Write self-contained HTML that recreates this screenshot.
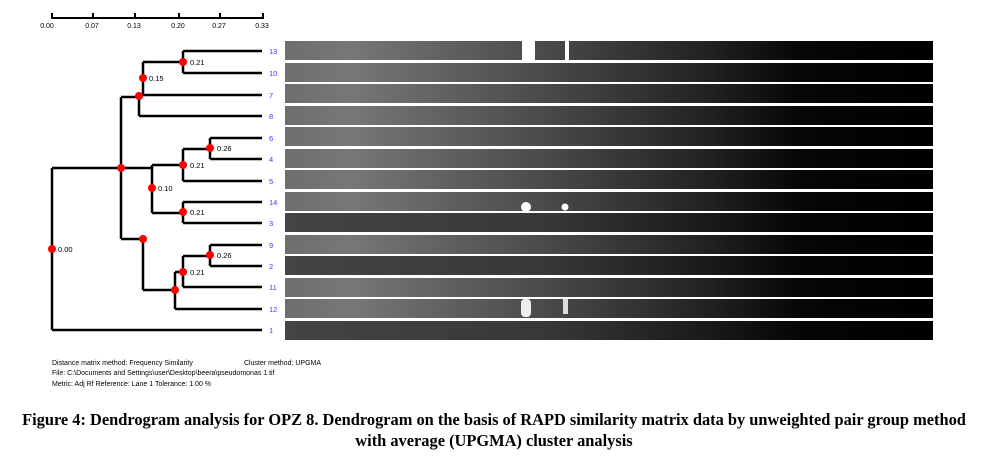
<!DOCTYPE html>
<html><head><meta charset="utf-8"><style>
body{margin:0;background:#fff;width:988px;height:459px;overflow:hidden;position:relative;font-family:"Liberation Sans",sans-serif}
.cap{position:absolute;left:0;width:988px;text-align:center;font-family:"Liberation Serif",serif;font-weight:bold;font-size:16.4px;color:#000;white-space:nowrap}
</style></head><body>
<svg width="988" height="400" style="position:absolute;left:0;top:0" font-family="Liberation Sans, sans-serif">
<defs>
<linearGradient id="g" x1="0" x2="1"><stop offset="0" stop-color="#6e6e6e"/><stop offset="0.1" stop-color="#777"/><stop offset="0.4" stop-color="#4a4a4a"/><stop offset="0.65" stop-color="#222"/><stop offset="0.8" stop-color="#060606"/><stop offset="1" stop-color="#000"/></linearGradient>
<linearGradient id="gd" x1="0" x2="1"><stop offset="0" stop-color="#444"/><stop offset="0.4" stop-color="#383838"/><stop offset="0.65" stop-color="#1a1a1a"/><stop offset="0.8" stop-color="#050505"/><stop offset="1" stop-color="#000"/></linearGradient>
</defs>
<g stroke="#000" stroke-width="2" fill="none">
<line x1="52" y1="18" x2="264" y2="18"/>
<line x1="52" y1="13" x2="52" y2="19"/><line x1="93" y1="13" x2="93" y2="19"/><line x1="135" y1="13" x2="135" y2="19"/><line x1="179" y1="13" x2="179" y2="19"/><line x1="220" y1="13" x2="220" y2="19"/><line x1="263" y1="13" x2="263" y2="19"/>
</g>
<g font-size="7" fill="#000" text-anchor="middle">
<text x="47" y="28">0.00</text><text x="92" y="28">0.07</text><text x="134" y="28">0.13</text><text x="178" y="28">0.20</text><text x="219" y="28">0.27</text><text x="262" y="28">0.33</text>
</g>
<g>
<rect x="285" y="41" width="648" height="19" fill="url(#g)"/>
<rect x="285" y="63" width="648" height="19" fill="url(#g)"/>
<rect x="285" y="84" width="648" height="19" fill="url(#g)"/>
<rect x="285" y="106" width="648" height="19" fill="url(#g)"/>
<rect x="285" y="127" width="648" height="19" fill="url(#g)"/>
<rect x="285" y="149" width="648" height="19" fill="url(#g)"/>
<rect x="285" y="170" width="648" height="19" fill="url(#g)"/>
<rect x="285" y="192" width="648" height="19" fill="url(#g)"/>
<rect x="285" y="213" width="648" height="19" fill="url(#gd)"/>
<rect x="285" y="235" width="648" height="19" fill="url(#g)"/>
<rect x="285" y="256" width="648" height="19" fill="url(#gd)"/>
<rect x="285" y="278" width="648" height="19" fill="url(#g)"/>
<rect x="285" y="299" width="648" height="19" fill="url(#g)"/>
<rect x="285" y="321" width="648" height="19" fill="url(#gd)"/>
<rect x="522" y="41" width="13" height="19" fill="#fff"/><rect x="565" y="41" width="4" height="19" fill="#fff"/>
<circle cx="526" cy="207" r="5" fill="#fff"/><circle cx="565" cy="207" r="3.5" fill="#fff"/>
<rect x="521" y="299" width="10" height="18" rx="4" fill="#eee"/><rect x="563" y="299" width="5" height="15" fill="#ddd"/>
</g>
<g stroke="#000" stroke-width="2.5" fill="none">
<path d="M52 168V330M52 168H121M52 330H262"/>
<path d="M121 97V239M121 97H139M121 239H143"/>
<path d="M139 95V116M139 116H262M139 95H262"/>
<path d="M143 62V95M143 62H183M183 51V73M183 51H262M183 73H262"/>
<path d="M121 168H152M152 165V213M152 165H183M183 149V181M183 181H262M183 149H210M210 138V159M210 138H262M210 159H262"/>
<path d="M152 213H183M183 202V223M183 202H262M183 223H262"/>
<path d="M143 239V290M143 290H175M175 272V309M175 309H262M175 272H183M183 256V287M183 287H262M183 256H210M210 245V266M210 245H262M210 266H262"/>
</g>
<g fill="#f00">
<circle cx="52" cy="249" r="4"/><circle cx="121" cy="168" r="4"/><circle cx="139" cy="96" r="4"/><circle cx="143" cy="78" r="4"/><circle cx="183" cy="62" r="4"/>
<circle cx="183" cy="165" r="4"/><circle cx="210" cy="148" r="4"/><circle cx="152" cy="188" r="4"/><circle cx="183" cy="212" r="4"/>
<circle cx="143" cy="239" r="4"/><circle cx="175" cy="290" r="4"/><circle cx="183" cy="272" r="4"/><circle cx="210" cy="255" r="4"/>
</g>
<g font-size="7.5" fill="#000">
<text x="58" y="252">0.00</text><text x="149" y="81">0.15</text><text x="190" y="65">0.21</text>
<text x="217" y="151">0.26</text><text x="190" y="168">0.21</text><text x="158" y="191">0.10</text><text x="190" y="215">0.21</text>
<text x="190" y="275">0.21</text><text x="217" y="258">0.26</text>
</g>
<g font-size="7.5" fill="#3a3aff">
<text x="269" y="54">13</text><text x="269" y="76">10</text><text x="269" y="98">7</text><text x="269" y="119">8</text><text x="269" y="141">6</text><text x="269" y="162">4</text><text x="269" y="184">5</text><text x="269" y="205">14</text><text x="269" y="226">3</text><text x="269" y="248">9</text><text x="269" y="269">2</text><text x="269" y="290">11</text><text x="269" y="312">12</text><text x="269" y="333">1</text>
</g>
<g font-size="7" fill="#000">
<text x="52" y="365">Distance matrix method: Frequency Similarity</text><text x="244" y="365">Cluster method: UPGMA</text>
<text x="52" y="375">File: C:\Documents and Settings\user\Desktop\beera\pseudomonas 1.tif</text>
<text x="52" y="386">Metric: Adj Rf     Reference: Lane 1    Tolerance: 1.00 %</text>
</g>
</svg>
<div class="cap" style="top:410px">Figure 4: Dendrogram analysis for OPZ 8. Dendrogram on the basis of RAPD similarity matrix data by unweighted pair group method</div>
<div class="cap" style="top:431px">with average (UPGMA) cluster analysis</div>
</body></html>
